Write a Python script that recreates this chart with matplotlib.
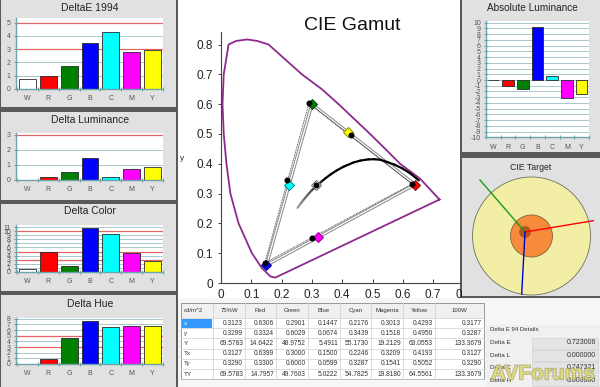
import numpy as np
import matplotlib
matplotlib.use('Agg')
import matplotlib.pyplot as plt
from matplotlib.patches import Rectangle, Circle
from matplotlib.collections import LineCollection
import matplotlib.patheffects as pe

plt.rcParams['font.family'] = ['Liberation Sans', 'DejaVu Sans']

# ---------------- data ----------------
categories = ['W', 'R', 'G', 'B', 'C', 'M', 'Y']
bar_colors = ['#ffffff', '#ff0000', '#008000', '#0000ff', '#00ffff', '#ff00ff', '#ffff00']
delta_e = [0.71, 0.96, 1.72, 3.43, 4.27, 2.75, 2.93]
delta_lum = [0.0, 0.18, 0.53, 1.44, 0.22, 0.76, 0.84]
delta_color = [0.8, 4.9, 1.35, 10.75, 9.4, 4.65, 2.75]
delta_hue = [0.0, 0.96, 4.6, 7.7, 6.5, 6.8, 6.75]
abs_lum = [0.0, -1.05, -1.6, 9.3, 0.7, -3.1, -2.4]

# spectral locus as drawn in the picture
locus_x = [0.721, 0.657, 0.591, 0.542, 0.492, 0.440, 0.388, 0.333, 0.267, 0.212,
           0.157, 0.120, 0.086, 0.050, 0.025, 0.009, 0.005, 0.009, 0.018, 0.031,
           0.058, 0.102, 0.135, 0.163, 0.179]
locus_y = [0.280, 0.350, 0.400, 0.450, 0.500, 0.550, 0.600, 0.650, 0.700, 0.750,
           0.800, 0.812, 0.817, 0.812, 0.800, 0.700, 0.600, 0.500, 0.400, 0.300,
           0.200, 0.100, 0.050, 0.022, 0.018]

# Planckian locus (1000K .. 25000K)
planck_x = [0.6528, 0.6251, 0.5987, 0.5732, 0.5494, 0.5267, 0.5056, 0.4862, 0.4599,
            0.4369, 0.4053, 0.3805, 0.3608, 0.3451, 0.3324, 0.3135, 0.2990, 0.2857,
            0.2709, 0.2614, 0.2525]
planck_y = [0.3444, 0.3674, 0.3842, 0.3968, 0.4054, 0.4133, 0.4152, 0.4147, 0.4106,
            0.4041, 0.3907, 0.3768, 0.3636, 0.3516, 0.3410, 0.3236, 0.3104, 0.2952,
            0.2773, 0.2644, 0.2522]

meas_x = [0.3123, 0.6306, 0.2901, 0.1447, 0.2176, 0.3013, 0.4293]
meas_y = [0.3299, 0.3324, 0.6029, 0.0674, 0.3439, 0.1518, 0.4950]
target_x = [0.3127, 0.6399, 0.3000, 0.1500, 0.2246, 0.3209, 0.4193]
target_y = [0.3290, 0.3300, 0.6000, 0.0599, 0.3287, 0.1541, 0.5052]
diamond_edges = ['#666666', '#990000', '#004400', '#000088', '#008888', '#880088', '#888800']

table_header = ['cd/m^2', '75%W', 'Red', 'Green', 'Blue', 'Cyan', 'Magenta', 'Yellow', '100W']
table_rows = [
    ['x', '0.3123', '0.6306', '0.2901', '0.1447', '0.2176', '0.3013', '0.4293', '0.3177'],
    ['y', '0.3299', '0.3324', '0.6029', '0.0674', '0.3439', '0.1518', '0.4950', '0.3287'],
    ['Y', '69.5783', '14.6422', '48.9752', '5.4911', '55.1730', '19.2129', '63.0553', '133.3679'],
    ['Tx', '0.3127', '0.6399', '0.3000', '0.1500', '0.2246', '0.3209', '0.4193', '0.3127'],
    ['Ty', '0.3290', '0.3300', '0.6000', '0.0599', '0.3287', '0.1541', '0.5052', '0.3290'],
    ['TY', '69.5783', '14.7957', '49.7603', '5.0222', '54.7825', '19.8180', '64.5561', '133.3679'],
]

de_labels = ['Delta E', 'Delta L', 'Delta C', 'Delta H']
de_values = ['0.723006', '0.000000', '0.747321', '0.000000']

# CIE target (relative to outer circle radius)
tgt_mid_r = 0.356
tgt_inner_c = (-0.11, 0.068)
tgt_inner_r = 0.10
tgt_line_ends = {'#1a9a1a': (-0.873, 0.949), '#ff0000': (1.047, 0.259), '#0000dd': (-0.166, -0.983)}

# ---------------- figure ----------------
W, H = 600, 387
fig = plt.figure(figsize=(6, 3.87), dpi=100)
fig.patch.set_facecolor('#5a5a5a')


def ax_px(x0, y0, x1, y1, **kw):
    return fig.add_axes([x0 / W, 1 - y1 / H, (x1 - x0) / W, (y1 - y0) / H], **kw)


def prect(ax, x0, y0, x1, y1, **kw):
    ax.add_patch(Rectangle((x0, y0), x1 - x0, y1 - y0, **kw))


bg = ax_px(0, 0, W, H)
bg.set_xlim(0, W)
bg.set_ylim(H, 0)
bg.axis('off')

PANEL = '#e1e1e1'
for (y0, y1) in [(0, 107), (112, 200), (204, 291), (295, 387)]:
    prect(bg, 1, y0, 176, y1, fc=PANEL, ec='none')
prect(bg, 178, 0, 460, 298, fc='white', ec='none')
prect(bg, 178, 298, W, H, fc='#f6f6f6', ec='none')

title_kw = dict(ha='center', va='center', color='#222222')
bg.text(90, 8, 'DeltaE 1994', fontsize=7.5, **title_kw)
bg.text(90, 120, 'Delta Luminance', fontsize=7.5, **title_kw)
bg.text(90, 211, 'Delta Color', fontsize=7.5, **title_kw)
bg.text(90, 304, 'Delta Hue', fontsize=7.5, **title_kw)

# ---- table ----
col_edges = [181, 213, 245, 276, 308, 340, 371, 403, 435, 484]
t_top, h_bot, row_h = 303, 318, 10.2
t_bot = h_bot + row_h * len(table_rows)
prect(bg, col_edges[0], t_top, col_edges[-1], h_bot, fc='#f0f0f0', ec='none')
prect(bg, col_edges[0], h_bot, col_edges[-1], t_bot, fc='white', ec='none')
prect(bg, col_edges[0] + 1, h_bot + 0.5, col_edges[1] - 1, h_bot + row_h, fc='#3399ff', ec='none')
for ce in col_edges[1:-1]:
    bg.plot([ce, ce], [t_top, t_bot], color='#cfcfcf', lw=0.5)
for i in range(len(table_rows) + 1):
    yy = h_bot + i * row_h
    bg.plot([col_edges[0], col_edges[-1]], [yy, yy], color='#cfcfcf', lw=0.5)
prect(bg, col_edges[0], t_top, col_edges[-1], t_bot, fc='none', ec='#8a8a8a', lw=0.6)
for j, htxt in enumerate(table_header):
    if j == 0:
        bg.text(col_edges[0] + 3, (t_top + h_bot) / 2, htxt, fontsize=4.3, ha='left', va='center', color='#333')
    else:
        bg.text((col_edges[j] + col_edges[j + 1]) / 2, (t_top + h_bot) / 2, htxt, fontsize=4.3,
                ha='center', va='center', color='#333')
for i, row in enumerate(table_rows):
    yc = h_bot + (i + 0.5) * row_h
    for j, cell in enumerate(row):
        if j == 0:
            bg.text(col_edges[0] + 3, yc, cell, fontsize=4.6, ha='left', va='center',
                    color='white' if i == 0 else '#333')
        else:
            bg.text(col_edges[j + 1] - 2, yc, cell, fontsize=4.8, ha='right', va='center', color='#333')

# ---- Delta E 94 details ----
prect(bg, 486, 325, 600, 387, fc='#f0f0f0', ec='none')
bg.text(490, 329.5, 'Delta E 94 Details', fontsize=4.3, ha='left', va='center', color='#333')
for i, (lab, val) in enumerate(zip(de_labels, de_values)):
    yc = 343 + i * 12.4
    bg.text(490, yc, lab, fontsize=4.6, ha='left', va='center', color='#333')
    prect(bg, 532, yc - 5.5, 598, yc + 5.5, fc='#e4e4e4', ec='#d2d2d2', lw=0.5)
    bg.text(596, yc, val, fontsize=5, ha='right', va='center', color='#333')
bg.text(543, 374, 'AVForums', fontsize=15, fontweight='bold', ha='center', va='center',
        color='#e6df70', alpha=0.6,
        path_effects=[pe.withStroke(linewidth=1.0, foreground='#8a8a60')])

bg.text(182, 158, 'y', fontsize=6, ha='center', va='center', color='#333')

# ---------------- small bar panels ----------------
TEAL = '#6fa3aa'
GRID = '#a9c8cc'
REDL = '#e06666'


def style_small(ax, vals, ylim, yticks, redlines, xlim=(-0.56, 6.51), width=0.8, labsize=5):
    ax.set_facecolor('white')
    ax.bar(range(len(categories)), vals, width=width, color=bar_colors,
           edgecolor='#2a2a2a', linewidth=0.6, zorder=3)
    ax.set_xlim(*xlim)
    ax.set_ylim(*ylim)
    ax.set_yticks(yticks)
    ax.set_yticklabels([str(t) for t in yticks])
    ax.set_xticks(range(len(categories)))
    ax.set_xticklabels(categories)
    ax.set_xticks(np.arange(-0.5, len(categories)), minor=True)
    ax.tick_params(axis='x', which='major', length=0, pad=4.5, labelsize=labsize, labelcolor='#555')
    ax.tick_params(axis='x', which='minor', length=3, direction='inout', color=TEAL, width=0.8)
    ax.tick_params(axis='y', length=2.5, direction='inout', color=TEAL, width=0.8, pad=2.5,
                   labelsize=labsize, labelcolor='#555')
    for t in yticks:
        if t not in redlines and t != ylim[0]:
            ax.axhline(t, color=GRID, lw=0.7, zorder=1)
    for r in redlines:
        ax.axhline(r, color=REDL, lw=0.9, zorder=2)
    for s in ['top', 'right']:
        ax.spines[s].set_visible(False)
    for s in ['left', 'bottom']:
        ax.spines[s].set_color(TEAL)
        ax.spines[s].set_linewidth(1.0)
        ax.spines[s].set_zorder(4)


p1 = ax_px(16, 18, 163, 88.7)
style_small(p1, delta_e, (0, 5.36), list(range(0, 6)), [3, 5])
p2 = ax_px(16, 133, 163, 180)
style_small(p2, delta_lum, (0, 3.13), list(range(0, 4)), [3])
p3 = ax_px(16, 225, 163, 272)
style_small(p3, delta_color, (0, 11.5), list(range(0, 12)), [3, 5, 10])
p4 = ax_px(16, 318, 163, 364)
style_small(p4, delta_hue, (0, 8.15), list(range(0, 9)), [3, 5])

# ---------------- CIE gamut ----------------
cie = ax_px(221, 32, 463.4, 283)
cie.set_facecolor('none')
cie.set_xlim(0, 0.8)
cie.set_ylim(0, 0.842)
cie.plot(locus_x + [locus_x[0]], locus_y + [locus_y[0]], color='#8e2a8e', lw=1.3, zorder=2,
         solid_joinstyle='round')
tri = [1, 2, 3, 1]
cie.plot([target_x[i] for i in tri], [target_y[i] for i in tri], color='#8c8c8c', lw=2.4, zorder=3)
cie.plot([target_x[i] for i in tri], [target_y[i] for i in tri], color='white', lw=0.9, zorder=3.1)
cie.plot([meas_x[i] for i in tri], [meas_y[i] for i in tri], color='#222', lw=0.6,
         ls=(0, (1, 1)), zorder=3.2)
pts = np.column_stack([planck_x, planck_y])
segs = np.stack([pts[:-1], pts[1:]], axis=1)
n = len(segs)
shade = np.concatenate([np.zeros(n - 6), np.linspace(0.15, 0.6, 6)])
lc = LineCollection(segs, colors=[(s, s, s) for s in shade], linewidths=1.6, zorder=3.3,
                    capstyle='round')
cie.add_collection(lc)
for i in range(len(categories)):
    cie.plot(target_x[i], target_y[i], marker='D', ms=5.5, mfc=bar_colors[i],
             mec=diamond_edges[i], mew=0.7, zorder=5, ls='none')
cie.plot(meas_x, meas_y, 'o', color='black', ms=3.3, zorder=6)
for s in ['top', 'right']:
    cie.spines[s].set_visible(False)
for s in ['left', 'bottom']:
    cie.spines[s].set_color('#444')
    cie.spines[s].set_linewidth(0.8)
xt = np.round(np.arange(0, 0.81, 0.1), 1)
cie.set_xticks(xt)
cie.set_xticklabels(['0'] + [f'{v:.1f}' for v in xt[1:]])
cie.set_yticks(xt)
cie.set_yticklabels(['0'] + [f'{v:.1f}' for v in xt[1:]])
cie.tick_params(axis='x', direction='in', length=3, width=0.7, color='#444', pad=4,
                labelsize=8.5, labelcolor='#222')
cie.tick_params(axis='y', direction='out', length=2.5, width=0.7, color='#444', pad=3,
                labelsize=8.5, labelcolor='#222')
bg.text(352, 26, 'CIE Gamut', fontsize=14, ha='center', va='center', color='#111')

# ---------------- right panels ----------------
fg = ax_px(0, 0, W, H)
fg.set_xlim(0, W)
fg.set_ylim(H, 0)
fg.axis('off')
fg.patch.set_alpha(0)
prect(fg, 462, 0, 600, 152, fc=PANEL, ec='none')
prect(fg, 462, 158, 600, 296, fc=PANEL, ec='none')
prect(fg, 462, 296, 600, 298, fc='#5a5a5a', ec='none')
fg.text(532, 8, 'Absolute Luminance', fontsize=7.2, **title_kw)
fg.text(531, 167, 'CIE Target', fontsize=6.3, **title_kw)

al = ax_px(486, 21, 589, 137.3)
style_small(al, abs_lum, (-10, 10.3), list(range(-10, 11)), [], xlim=(-0.45, 6.5), width=0.78, labsize=5)
al.tick_params(axis='x', which='major', pad=4.8)

tgt = ax_px(462, 158, 600, 296)
tgt.set_xlim(-1.178, 1.161)
tgt.set_ylim(-1.017, 1.322)
tgt.axis('off')
tgt.patch.set_alpha(0)
tgt.add_patch(Circle((0, 0), 1.0, fc='#f3eea6', ec='#707060', lw=0.6, zorder=1))
tgt.add_patch(Circle((0, 0), tgt_mid_r, fc='#f68b3c', ec='#806040', lw=0.6, zorder=2))
tgt.add_patch(Circle(tgt_inner_c, tgt_inner_r, fc='#b4561a', ec='none', zorder=3))
for col, (ex, ey) in tgt_line_ends.items():
    tgt.plot([tgt_inner_c[0], ex], [tgt_inner_c[1], ey], color=col, lw=1.0, zorder=4)

fig.savefig('out.png', dpi=100, facecolor=fig.get_facecolor())
